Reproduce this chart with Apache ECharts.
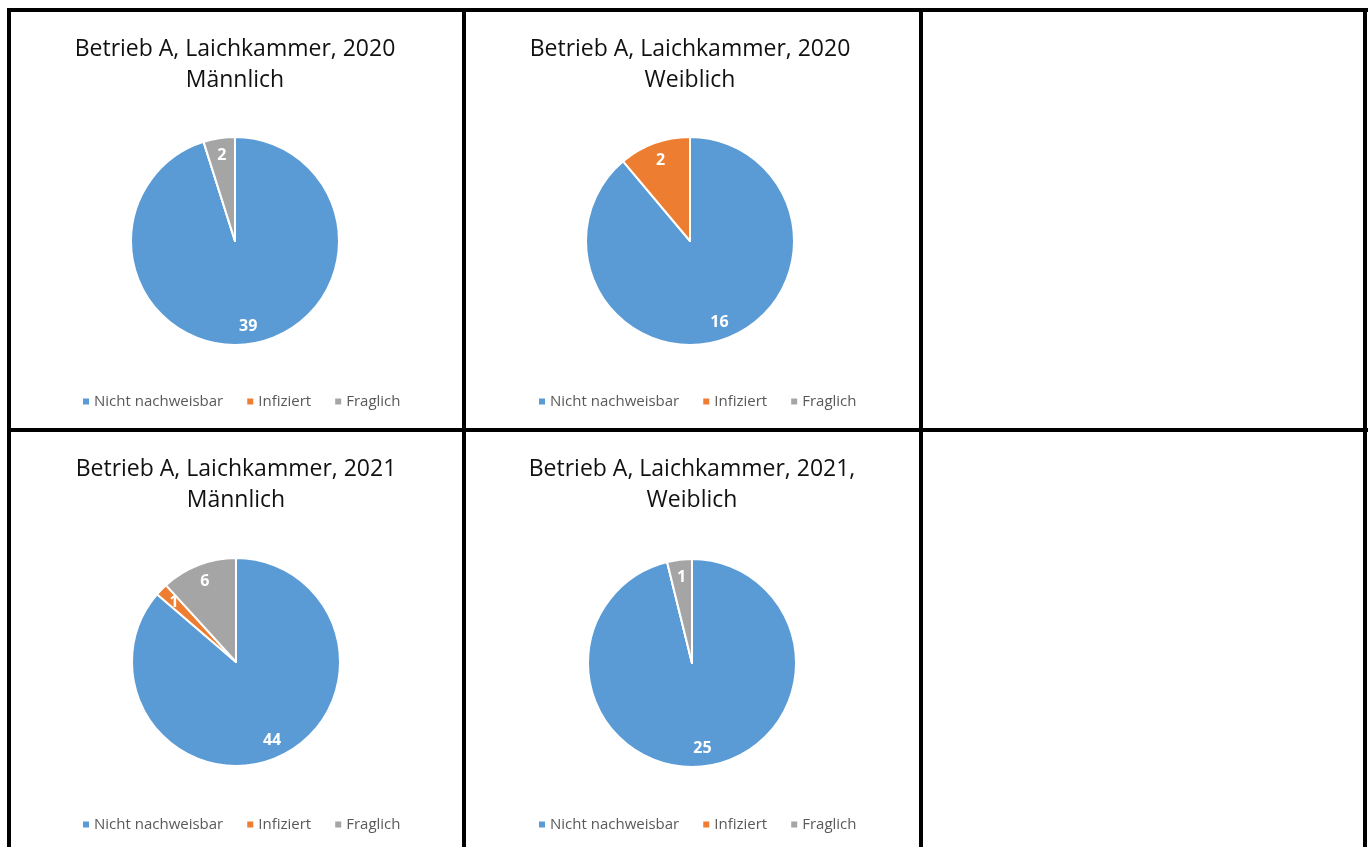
<!DOCTYPE html>
<html>
<head>
<meta charset="utf-8">
<script src="https://cdn.jsdelivr.net/npm/echarts@6/dist/echarts.min.js"></script>
<style>
  html, body { margin: 0; padding: 0; background: #fff; }
  #main { position: absolute; left: 0; top: 0; width: 1370px; height: 847px; }
  .ln { position: absolute; background: #000; pointer-events: none; }
</style>
</head>
<body>
<div id="main"></div>
<!-- table borders -->
<div class="ln" style="left:7px;top:8px;width:1361px;height:4px"></div>
<div class="ln" style="left:7px;top:428px;width:1361px;height:4px"></div>
<div class="ln" style="left:7px;top:8px;width:4px;height:839px"></div>
<div class="ln" style="left:462px;top:8px;width:4px;height:839px"></div>
<div class="ln" style="left:919px;top:8px;width:4px;height:839px"></div>
<div class="ln" style="left:1363px;top:8px;width:4px;height:839px"></div>
<script>
// Kategorien
var categories = ['Nicht nachweisbar', 'Infiziert', 'Fraglich']
var colors = ['#5B9BD5', '#ED7D31', '#A5A5A5']

// Titel der vier Diagramme
var titles = [
  'Betrieb A, Laichkammer, 2020\nMännlich',
  'Betrieb A, Laichkammer, 2020\nWeiblich',
  'Betrieb A, Laichkammer, 2021\nMännlich',
  'Betrieb A, Laichkammer, 2021,\nWeiblich'
]

// Werte je Diagramm
var m2020 = [39, 0, 2]
var w2020 = [16, 2, 0]
var m2021 = [44, 1, 6]
var w2021 = [25, 0, 1]
var values = [m2020, w2020, m2021, w2021]

// Position der Diagramme (Mitte der Torte)
var centers = [[235, 241], [690, 241], [236, 662], [692, 663]]
var titleTop = [34, 34, 454, 454]
var legendLeft = [81, 537, 81, 537]
var legendTop = [394, 394, 817, 817]
var R = 104

var main = document.getElementById('main')
var myChart = echarts.init(main, null, { renderer: 'canvas' })

function toData (arr, colored) {
  return categories.map(function (c, i) {
    return { name: c, value: arr[i], itemStyle: { color: colored ? colors[i] : 'rgba(0,0,0,0)' } }
  })
}

var series = []
var title = []
var legend = []
values.forEach(function (arr, k) {
  // sichtbare Torte
  series.push({
    type: 'pie',
    center: centers[k],
    radius: [0, R],
    startAngle: 90,
    clockwise: true,
    silent: true,
    label: { show: false },
    labelLine: { show: false },
    itemStyle: { borderColor: '#fff', borderWidth: 2 },
    data: toData(arr, true)
  })
  // unsichtbarer Ring nur für die Beschriftungen (bei ca. 0.8 r)
  series.push({
    type: 'pie',
    center: centers[k],
    radius: [R * 0.6, R],
    startAngle: 90,
    silent: true,
    legendHoverLink: false,
    itemStyle: { borderWidth: 0 },
    label: {
      show: true,
      position: 'inside',
      color: '#fff',
      fontWeight: 'bold',
      fontSize: 16,
      fontFamily: 'Open Sans',
      formatter: function (p) { return p.value ? String(p.value) : '' }
    },
    labelLine: { show: false },
    data: toData(arr, false)
  })
  title.push({
    text: titles[k],
    left: centers[k][0],
    top: titleTop[k],
    textAlign: 'center',
    padding: 0,
    textStyle: {
      fontFamily: 'Open Sans',
      fontWeight: 'normal',
      fontSize: 23,
      lineHeight: 31,
      color: '#111'
    }
  })
  legend.push({
    data: categories,
    left: legendLeft[k],
    top: legendTop[k],
    icon: 'rect',
    itemWidth: 8,
    itemHeight: 8,
    itemGap: 22,
    selectedMode: false,
    padding: 0,
    textStyle: { fontFamily: 'Open Sans', fontSize: 15, color: '#595959', padding: [0, 0, 0, -1] }
  })
})

myChart.setOption({
  backgroundColor: '#fff',
  animation: false,
  title: title,
  legend: legend,
  series: series
})
</script>
</body>
</html>
